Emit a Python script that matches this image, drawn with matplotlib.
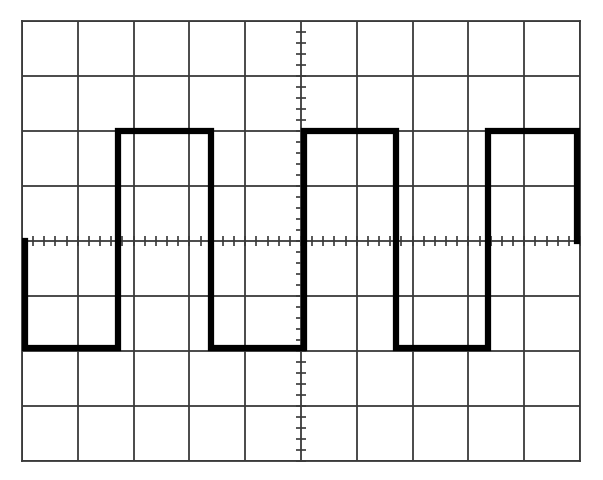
import matplotlib
matplotlib.use("Agg")
import matplotlib.pyplot as plt
import numpy as np

# square wave corners, in screen divisions
edge_x = [0.05, 1.72, 3.38, 5.05, 6.70, 8.35, 9.95]
level_y = [-1.95, 2.0, -1.95, 2.0, -1.95, 2.0]
start_y = 0.0
end_y = 0.0

n_xdiv = 10
n_ydiv = 8

fig = plt.figure(figsize=(6.03, 4.81), dpi=100)
ax = fig.add_axes([22 / 603, 19 / 481, 558 / 603, 440 / 481])
ax.set_xlim(0, n_xdiv)
ax.set_ylim(-n_ydiv / 2, n_ydiv / 2)

grid_col = "#3a3a3a"
for gx in range(n_xdiv + 1):
    ax.axvline(gx, color=grid_col, lw=1.3, zorder=1)
for gy in range(-n_ydiv // 2, n_ydiv // 2 + 1):
    ax.axhline(gy, color=grid_col, lw=1.3, zorder=1)

# minor ticks on the centre lines
tx = np.arange(0, n_xdiv + 0.01, 0.2)
ax.plot(tx, np.zeros_like(tx), ls="none", marker="|", ms=7, mew=1.2,
        color=grid_col, zorder=2)
ty = np.arange(-n_ydiv / 2, n_ydiv / 2 + 0.01, 0.2)
ax.plot(np.full_like(ty, 5.0), ty, ls="none", marker="_", ms=7, mew=1.2,
        color=grid_col, zorder=2)

# build trace
xs = [edge_x[0]]
ys = [start_y]
for i, lv in enumerate(level_y):
    xs += [edge_x[i], edge_x[i + 1]]
    ys += [lv, lv]
xs.append(edge_x[-1])
ys.append(end_y)
ax.plot(xs, ys, color="black", lw=4.5, solid_joinstyle="miter", zorder=3)

ax.set_xticks([])
ax.set_yticks([])
for s in ax.spines.values():
    s.set_color(grid_col)
    s.set_linewidth(1.3)

fig.savefig("out.png", dpi=100)
